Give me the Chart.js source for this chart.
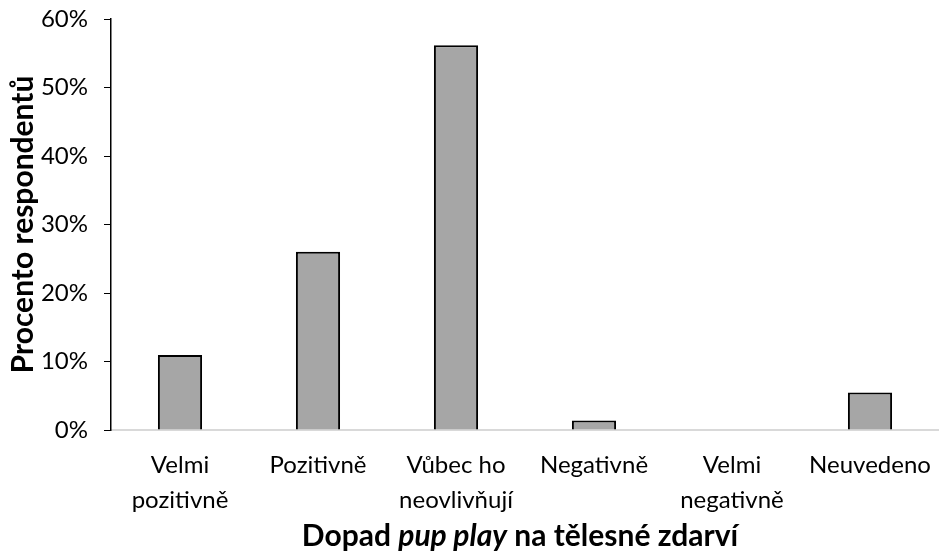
<!DOCTYPE html>
<html>
<head>
<meta charset="utf-8">
<script src="https://cdn.jsdelivr.net/npm/chart.js@4"></script>
<style>
  html, body { margin: 0; padding: 0; background: #fff; }
  #wrap { width: 941px; height: 557px; }
</style>
</head>
<body>
<div id="wrap"><canvas id="myChart" width="941" height="557"></canvas></div>
<script>
const categories = [
  ["Velmi", "pozitivně"],
  "Pozitivně",
  ["Vůbec ho", "neovlivňují"],
  "Negativně",
  ["Velmi", "negativně"],
  "Neuvedeno",
];
const percents = [10.96, 26.03, 56.16, 1.37, 0, 5.48];
const yTicks = [0, 10, 20, 30, 40, 50, 60];
const yTitle = "Procento respondentů";
const xTitleParts = [
  { text: "Dopad ", italic: false },
  { text: "pup play", italic: true },
  { text: " na tělesné zdarví", italic: false },
];

const fontFamily = "Lato, 'Open Sans', sans-serif";

// x title has an italic bit, so draw it by hand
const xTitlePlugin = {
  id: "xTitle",
  afterDraw(chart) {
    let c = chart.ctx;
    let fonts = xTitleParts.map(
      (p) => (p.italic ? "italic " : "") + "bold 30px " + fontFamily
    );
    let total = 0;
    xTitleParts.forEach((p, i) => {
      c.font = fonts[i];
      total += c.measureText(p.text).width;
    });
    let x = 520 - total / 2;
    c.save();
    c.fillStyle = "#000";
    c.textBaseline = "alphabetic";
    xTitleParts.forEach((p, i) => {
      c.font = fonts[i];
      c.fillText(p.text, x, 546);
      x += c.measureText(p.text).width;
    });
    c.restore();
  },
};

let ctx = document.getElementById("myChart").getContext("2d");
let myChart = new Chart(ctx, {
  type: "bar",
  data: {
    labels: categories,
    datasets: [
      {
        data: percents,
        backgroundColor: "#a6a6a6",
        borderColor: "#000",
        borderWidth: 2,
        borderSkipped: "bottom",
        categoryPercentage: 1,
        barPercentage: 0.32,
      },
    ],
  },
  options: {
    responsive: false,
    animation: false,
    layout: { padding: { top: 19, right: 1, bottom: 0, left: 5 } },
    plugins: {
      legend: { display: false },
      tooltip: { enabled: false },
    },
    scales: {
      x: {
        afterFit: (axis) => {
          axis.height = 127;
        },
        grid: { display: false },
        border: { color: "#d9d9d9", width: 2 },
        ticks: {
          color: "#000",
          font: { family: fontFamily, size: 24, lineHeight: 1.45 },
          padding: 10,
          maxRotation: 0,
        },
      },
      y: {
        min: 0,
        max: 60,
        afterBuildTicks: (axis) => {
          axis.ticks = yTicks.map((v) => ({ value: v }));
        },
        afterFit: (axis) => {
          axis.width = 106;
          axis.paddingTop = 0;
          axis.paddingBottom = 0;
        },
        grid: {
          drawOnChartArea: false,
          drawTicks: true,
          tickLength: 7,
          color: "#000",
        },
        border: { color: "#000", width: 1.5 },
        ticks: {
          color: "#000",
          font: { family: fontFamily, size: 24 },
          padding: 16,
          callback: (v) => v + "%",
        },
        title: {
          display: true,
          text: yTitle,
          color: "#000",
          font: { family: fontFamily, size: 30, weight: "bold" },
          padding: { top: 0, bottom: 0 },
        },
      },
    },
  },
  plugins: [xTitlePlugin],
});
</script>
</body>
</html>
